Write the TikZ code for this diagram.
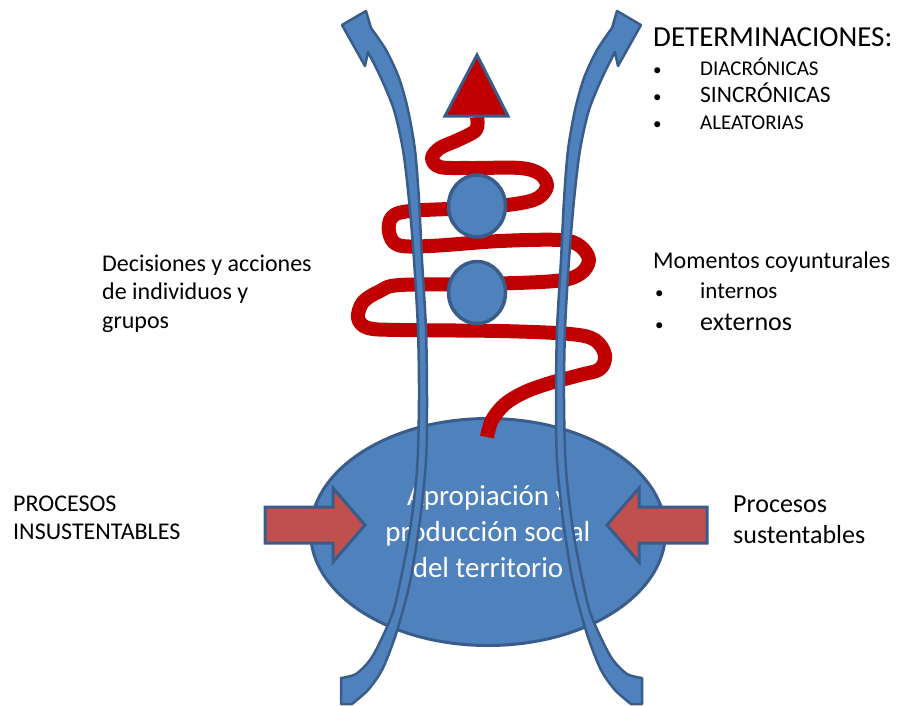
\documentclass[tikz,border=0pt]{standalone}
\usepackage{fontspec}
\setmainfont{Carlito}
\usetikzlibrary{shapes.geometric}
\usetikzlibrary{positioning}
\definecolor{bluefill}{HTML}{4F81BD}
\definecolor{blueline}{HTML}{385D8A}
\definecolor{redline}{HTML}{C00000}
\definecolor{arrowred}{HTML}{C0504D}

\begin{document}
\begin{tikzpicture}
			[
				x = 1pt, y = -1pt,
				hub/.style = {draw = blueline, fill = bluefill, ellipse, line width = 3pt, minimum width = 355pt, minimum height = 227pt, text = white, align = center, font = \fontsize{29}{36}\selectfont},
				knot/.style = {draw = blueline, fill = bluefill, ellipse, line width = 3.5pt, minimum width = 57pt, minimum height = 62pt},
				band/.style = {draw = blueline, fill = bluefill, line width = 2.5pt, line join = round},
				squiggle/.style = {draw = redline, line width = 14pt, line join = round},
				push/.style = {draw = blueline, fill = arrowred, line width = 3pt},
				tiptri/.style = {draw = blueline, fill = redline, line width = 3pt},
				caption/.style = {anchor = base west, inner sep = 0pt, font = \fontsize{24}{29}\selectfont},
				dot/.style = {caption, font = \fontsize{17}{20}\selectfont}
			]
			\useasboundingbox (0,0) rectangle (897,705);
			%
			\node (territorio) [hub] at (488,532) {Apropiación y\\producción social\\del territorio};
			%
			\draw [push] (265,507) -- (333,507) -- (333,488) -- (365,525) -- (333,562) -- (333,543) -- (265,543) -- cycle;
			\draw [push] (707,507) -- (639,507) -- (639,488) -- (607,525) -- (639,562) -- (639,543) -- (707,543) -- cycle;
			%
			\coordinate (swirlstart) at (487,437);
			\coordinate (swirlend) at (477,117);
			\draw [squiggle] plot [smooth, tension = 0.55] coordinates {(swirlstart) (492,420) (505,404) (525,392) (550,383) (580,375) (600,369) (605,355) (595,340) (570,334) (500,331) (400,330) (368,328) (358,318) (363,302) (380,291) (400,285) (480,284) (555,281) (580,274) (589,260) (580,246) (560,240) (500,241) (430,246) (398,245) (389,232) (392,217) (410,211) (470,208) (515,204) (538,198) (547,186) (540,174) (520,168) (470,168) (440,167) (432,158) (440,148) (458,140) (476,130) (swirlend)};
			%
			\draw [tiptri] (445,116) -- (477,55) -- (508,116) -- cycle;
			%
			\node (knot1) [knot] at (477,206) {};
			\node (knot2) [knot, below = 21pt of knot1] {};
			%
			\foreach \sx/\sh in {1/0, -1/983}
			{
				\begin{scope}[xshift = \sh pt, xscale = \sx]
					\draw [band] (342,25) -- (366,11) -- (371,28)
						-- plot [smooth] coordinates {(371,28) (386,50) (399,78) (408,110) (415,150) (419,200) (422,260) (426,330) (427,400) (426,460) (420,520) (411,577) (403,610) (394,640) (382,670) (368,690) (352,704)}
						-- (341,704) -- (341,678)
						-- plot [smooth] coordinates {(341,678) (356,674) (370,660) (381,640) (393,612) (401,578) (410,530) (417,470) (419,400) (418,330) (414,260) (409,200) (403,150) (394,110) (381,78) (368,52)}
						-- (365,66) -- cycle;
				\end{scope}
			}
			%
			\node (decisiones1) [caption] at (102,271) {Decisiones y acciones};
			\node (decisiones2) [caption, below = 28.5pt of decisiones1.base west, anchor = base west] {de individuos y};
			\node (decisiones3) [caption, below = 28.5pt of decisiones2.base west, anchor = base west] {grupos};
			%
			\node (procesos1) [caption] at (13,511) {PROCESOS};
			\node (procesos2) [caption, below = 28pt of procesos1.base west, anchor = base west] {INSUSTENTABLES};
			%
			\node (sustent1) [caption, font = \fontsize{26}{31}\selectfont] at (733,512) {Procesos};
			\node (sustent2) [caption, font = \fontsize{26}{31}\selectfont, below = 31pt of sustent1.base west, anchor = base west] {sustentables};
			%
			\node (determ) [caption, font = \fontsize{29}{34}\selectfont] at (653,46) {DETERMINACIONES:};
			\node (dot1) [dot] at (653,75) {•};
			\node (dot2) [dot] at (653,102) {•};
			\node (dot3) [dot] at (653,129) {•};
			\node (diacr) [caption, font = \fontsize{21}{25}\selectfont] at (700,75) {DIACRÓNICAS};
			\node (sincr) [caption, font = \fontsize{23.5}{28}\selectfont] at (700,102) {SINCRÓNICAS};
			\node (aleat) [caption, font = \fontsize{21}{25}\selectfont] at (700,129) {ALEATORIAS};
			%
			\node (momentos) [caption] at (653,268) {Momentos coyunturales};
			\node (dot4) [dot] at (655,298) {•};
			\node (dot5) [dot] at (655,330) {•};
			\node (internos) [caption, font = \fontsize{23}{27}\selectfont] at (700,298) {internos};
			\node (externos) [caption, font = \fontsize{26}{31}\selectfont] at (700,330) {externos};
			%
		\end{tikzpicture}
\end{document}
